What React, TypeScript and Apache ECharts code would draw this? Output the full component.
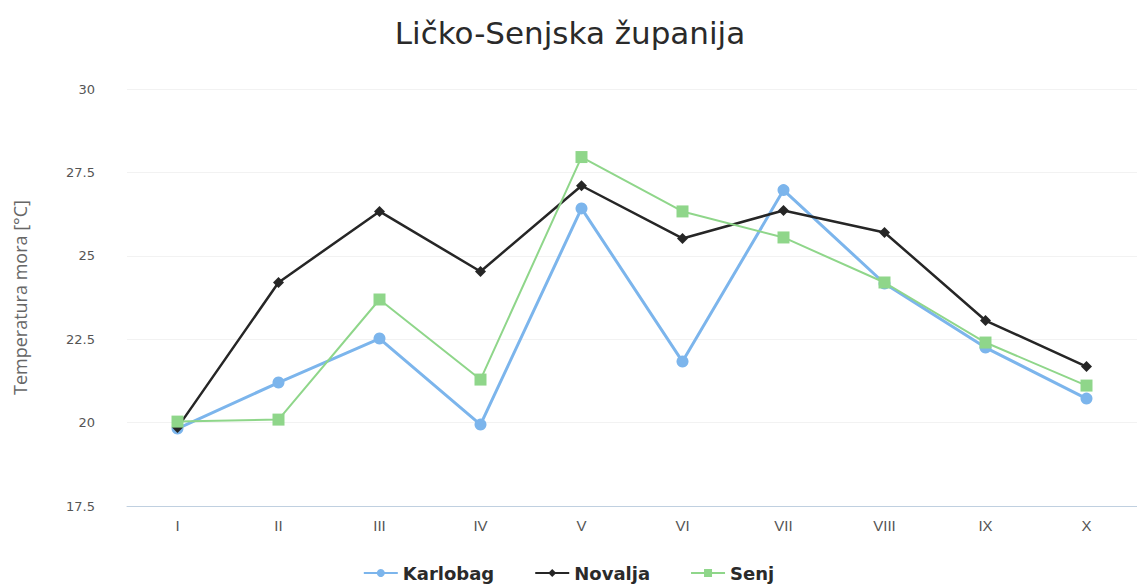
import React, { useEffect, useRef } from "react";
import * as echarts from "echarts";

const categories = ["I", "II", "III", "IV", "V", "VI", "VII", "VIII", "IX", "X"];
const karlobag = [19.82, 21.2, 22.52, 19.94, 26.42, 21.83, 26.97, 24.17, 22.25, 20.72];
const novalja = [19.85, 24.2, 26.33, 24.53, 27.1, 25.52, 26.36, 25.7, 23.06, 21.68];
const senj = [20.03, 20.09, 23.69, 21.29, 27.96, 26.33, 25.55, 24.2, 22.4, 21.11];
const yTicks = { min: 17.5, max: 30, interval: 2.5 };

export default function App() {
  const ref = useRef<HTMLDivElement>(null);
  useEffect(() => {
    if (!ref.current) return;
    const chart = echarts.init(ref.current, undefined, { renderer: "svg" });
    chart.setOption({
      animation: false,
      backgroundColor: "#ffffff",
      title: {
        text: "Ličko-Senjska županija",
        left: 565,
        textAlign: "center",
        top: 12,
        textStyle: { fontFamily: "DejaVu Sans", fontSize: 31, fontWeight: "normal", color: "#2a2a2a" },
      },
      grid: { left: 127, right: 0, top: 89, bottom: 79, containLabel: false },
      legend: {
        top: 559,
        left: "center",
        itemGap: 40,
        itemWidth: 34,
        itemHeight: 10,
        textStyle: { fontFamily: "DejaVu Sans", fontSize: 18, fontWeight: "bold", color: "#2a2a2a" },
        data: ["Karlobag", "Novalja", "Senj"],
      },
      xAxis: {
        type: "category",
        data: categories,
        boundaryGap: true,
        axisLine: { lineStyle: { color: "#c0d0e0", width: 1 } },
        axisTick: { show: false },
        axisLabel: { color: "#555", fontFamily: "Liberation Sans Narrow, Liberation Sans", fontSize: 15, margin: 12 },
      },
      yAxis: {
        type: "value",
        min: yTicks.min,
        max: yTicks.max,
        interval: yTicks.interval,
        name: "Temperatura mora [°C]",
        nameLocation: "middle",
        nameGap: 98,
        nameTextStyle: { color: "#666", fontFamily: "Open Sans", fontSize: 18 },
        axisLine: { show: false },
        axisTick: { show: false },
        splitLine: { lineStyle: { color: "#f2f2f2", width: 1 } },
        axisLabel: {
          color: "#555",
          fontFamily: "DejaVu Sans",
          fontSize: 13,
          margin: 32,
          formatter: (v: number) => String(v),
        },
      },
      series: [
        {
          name: "Karlobag",
          type: "line",
          data: karlobag,
          symbol: "circle",
          symbolSize: 12,
          itemStyle: { color: "#7cb5ec" },
          lineStyle: { color: "#7cb5ec", width: 3 },
          z: 2,
        },
        {
          name: "Novalja",
          type: "line",
          data: novalja,
          symbol: "diamond",
          symbolSize: 11,
          itemStyle: { color: "#262626" },
          lineStyle: { color: "#262626", width: 2.5 },
          z: 3,
        },
        {
          name: "Senj",
          type: "line",
          data: senj,
          symbol: "rect",
          symbolSize: 12,
          itemStyle: { color: "#8fd68a" },
          lineStyle: { color: "#8fd68a", width: 2 },
          z: 4,
        },
      ],
    });
    return () => chart.dispose();
  }, []);
  return (
    <div
      ref={ref}
      style={{ position: "fixed", left: 0, top: 0, width: 1137, height: 585 }}
    />
  );
}
